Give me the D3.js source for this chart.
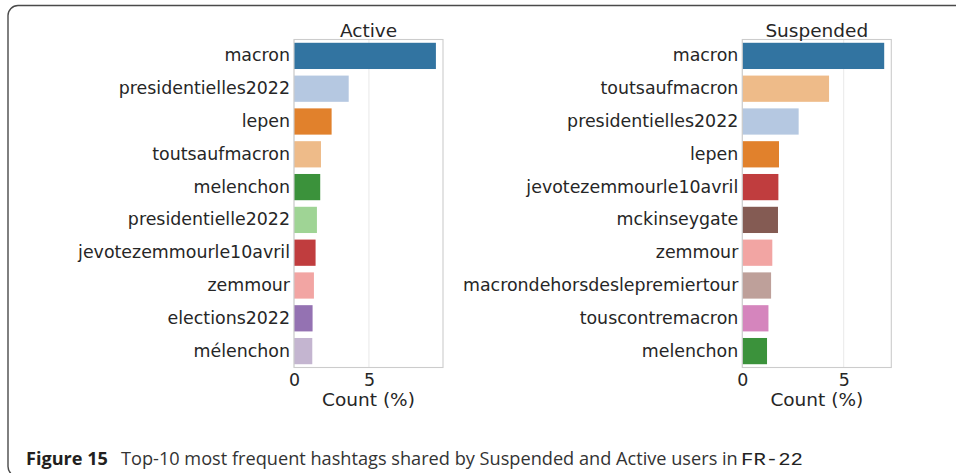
<!DOCTYPE html>
<html>
<head>
<meta charset="utf-8">
<script src="https://cdn.jsdelivr.net/npm/d3@7"></script>
<style>
  html, body { margin: 0; padding: 0; background: #fff; }
  svg { display: block; }
</style>
</head>
<body>
<svg id="chart" width="956" height="473"></svg>
<script>
// ---- Data ----
const activeLabels = ["macron", "presidentielles2022", "lepen", "toutsaufmacron", "melenchon",
  "presidentielle2022", "jevotezemmourle10avril", "zemmour", "elections2022", "mélenchon"];
const activeValues = [9.47, 3.65, 2.51, 1.80, 1.75, 1.53, 1.44, 1.33, 1.24, 1.22];
const activeColors = ["#1f77b4", "#aec7e8", "#ff7f0e", "#ffbb78", "#2ca02c",
  "#98df8a", "#d62728", "#ff9896", "#9467bd", "#c5b0d5"];

const suspendedLabels = ["macron", "toutsaufmacron", "presidentielles2022", "lepen", "jevotezemmourle10avril",
  "mckinseygate", "zemmour", "macrondehorsdeslepremiertour", "touscontremacron", "melenchon"];
const suspendedValues = [7.00, 4.28, 2.78, 1.81, 1.78, 1.76, 1.48, 1.42, 1.29, 1.22];
const suspendedColors = ["#1f77b4", "#ffbb78", "#aec7e8", "#ff7f0e", "#d62728",
  "#8c564b", "#ff9896", "#c49c94", "#e377c2", "#2ca02c"];

const xTicks = [0, 5];
const xLabel = "Count (%)";
const captionBold = "Figure 15";
const captionText = "Top-10 most frequent hashtags shared by Suspended and Active users in ";
const captionMono = "FR-22";

// ---- Drawing ----
const svg = d3.select("#chart");
const textColor = "#262626";

// outer frame
svg.append("rect")
  .attr("x", 8).attr("y", 5.5)
  .attr("width", 1100).attr("height", 471)
  .attr("rx", 10).attr("ry", 10)
  .attr("fill", "none").attr("stroke", "#4a4a4a").attr("stroke-width", 1.4);

function desat(c) {
  const h = d3.hsl(c);
  h.s = h.s * 0.75;
  return h.formatHex();
}

function panel(opts) {
  const { title, labels, values, colors, x0, x1, y0, y1 } = opts;
  const g = svg.append("g");
  const x = d3.scaleLinear().domain([0, d3.max(values) * 1.05]).range([x0, x1]);
  const y = d3.scaleBand().domain(labels).range([y0, y1]).paddingInner(0.2).paddingOuter(0.1);

  // grid
  g.selectAll("line.grid").data(xTicks).enter().append("line")
    .attr("x1", d => x(d)).attr("x2", d => x(d))
    .attr("y1", y0).attr("y2", y1)
    .attr("stroke", "#ebebeb").attr("stroke-width", 1.1);

  // bars
  g.selectAll("rect.bar").data(values).enter().append("rect")
    .attr("x", x(0))
    .attr("y", (d, i) => y(labels[i]))
    .attr("width", d => x(d) - x(0))
    .attr("height", y.bandwidth())
    .attr("fill", (d, i) => desat(colors[i]));

  // spines
  g.append("rect")
    .attr("x", x0).attr("y", y0)
    .attr("width", x1 - x0).attr("height", y1 - y0)
    .attr("fill", "none").attr("stroke", "#cccccc").attr("stroke-width", 1.1);

  // y axis
  const ya = g.append("g").attr("transform", `translate(${x0},0)`)
    .call(d3.axisLeft(y).tickSize(0).tickPadding(4));
  ya.select(".domain").remove();
  ya.selectAll("text").attr("font-family", "DejaVu Sans").attr("font-size", 17.4)
    .attr("fill", textColor);

  // x axis
  const xa = g.append("g").attr("transform", `translate(0,${y1})`)
    .call(d3.axisBottom(x).tickValues(xTicks).tickFormat(d3.format("d")).tickSize(0).tickPadding(6));
  xa.select(".domain").remove();
  xa.selectAll("text").attr("font-family", "DejaVu Sans").attr("font-size", 17.4)
    .attr("fill", textColor);

  // x label
  g.append("text")
    .attr("x", (x0 + x1) / 2).attr("y", y1 + 38)
    .attr("text-anchor", "middle")
    .attr("font-family", "DejaVu Sans").attr("font-size", 18.5)
    .attr("fill", textColor).text(xLabel);

  // title
  g.append("text")
    .attr("x", (x0 + x1) / 2).attr("y", y0 - 3)
    .attr("text-anchor", "middle")
    .attr("font-family", "DejaVu Sans").attr("font-size", 18.5)
    .attr("fill", textColor).text(title);
}

panel({ title: "Active", labels: activeLabels, values: activeValues, colors: activeColors,
  x0: 294, x1: 443, y0: 39.5, y1: 367.5 });
panel({ title: "Suspended", labels: suspendedLabels, values: suspendedValues, colors: suspendedColors,
  x0: 742.3, x1: 891.3, y0: 39.5, y1: 367.5 });

// caption
function fitText(str, x0, x1, y, attrs) {
  const t = svg.append("text").attr("x", 0).attr("y", 0).text(str);
  Object.entries(attrs).forEach(([k, v]) => t.attr(k, v));
  const w = t.node().getComputedTextLength();
  t.attr("transform", `translate(${x0},${y}) scale(${(x1 - x0) / w},1)`);
}
fitText(captionBold, 26, 108, 464.5, { "font-family": "Open Sans", "font-size": 18.5, "font-weight": "bold", fill: "#231f20" });
fitText(captionText, 121, 738, 464.5, { "font-family": "Open Sans", "font-size": 18.5, fill: "#333" });
fitText(captionMono, 741, 803, 464.5, { "font-family": "Liberation Mono", "font-size": 18.5, fill: "#222" });
</script>
</body>
</html>
